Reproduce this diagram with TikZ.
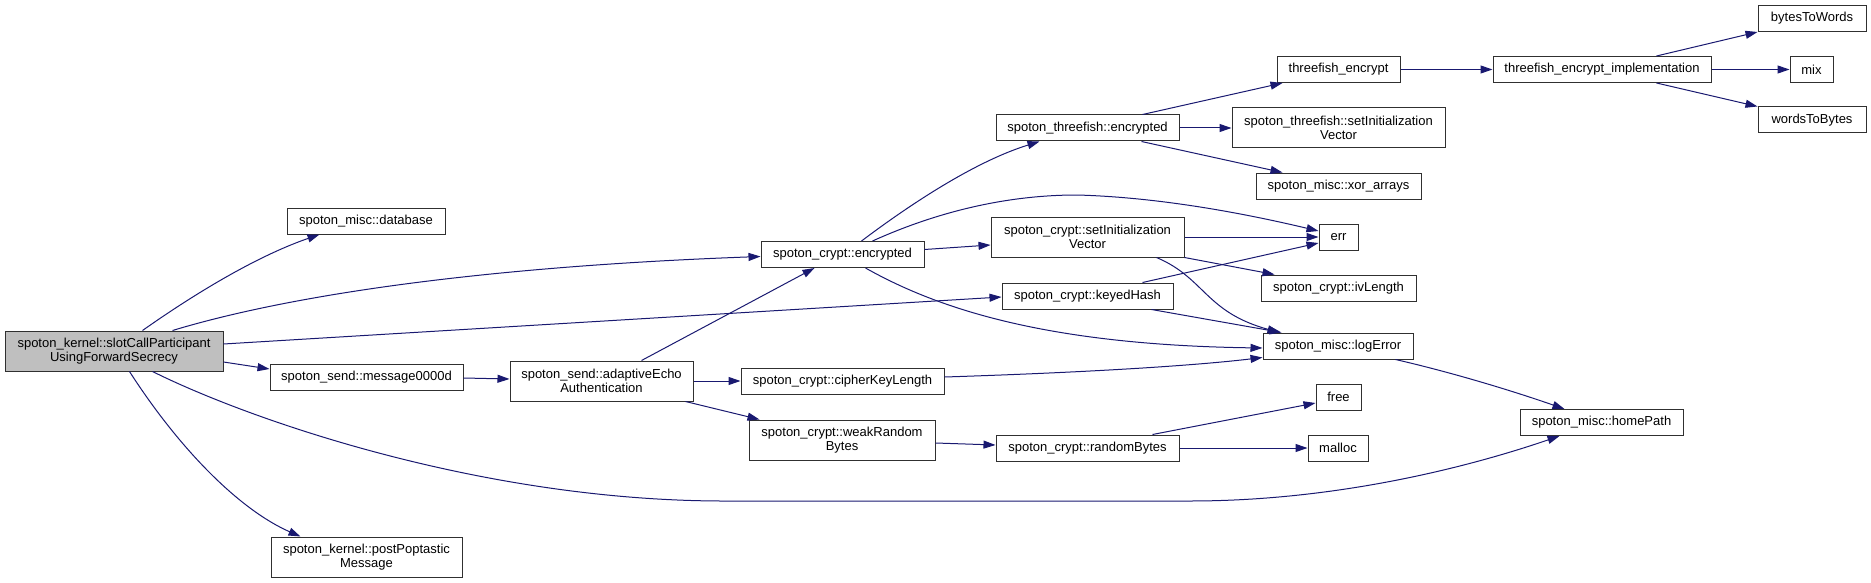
\documentclass[tikz,border=0pt]{standalone}
\usepackage{fontspec}
\setmainfont{Liberation Sans}
\usetikzlibrary{arrows.meta,calc}
\definecolor{edgeblue}{HTML}{191970}
\definecolor{boxline}{HTML}{303030}
\begin{document}
\begin{tikzpicture}[x=1pt,y=-1pt,
  fn/.style={draw=boxline,line width=1pt,fill=white,inner sep=0pt,align=center,
    minimum height=26pt,font=\fontsize{13}{14.5}\selectfont},
  fn2/.style={fn,minimum height=40pt},
  call/.style={draw=edgeblue,line width=1pt,-{Triangle[length=12pt,width=8pt]}}]
\useasboundingbox (0,0) rectangle (1871,583);
% nodes
\node[fn2,fill={rgb,255:red,191;green,191;blue,191},minimum width=218pt] (slot) at (114,351) {spoton\_kernel::slotCallParticipant\\UsingForwardSecrecy};
\node[fn,minimum width=158pt] (database) at (366,221) {spoton\_misc::database};
\node[fn,minimum width=193pt] (msg) at (366.5,377) {spoton\_send::message0000d};
\node[fn2,minimum width=191pt] (post) at (366.5,557) {spoton\_kernel::postPoptastic\\Message};
\node[fn,minimum width=163pt] (cenc) at (842.5,254.5) {spoton\_crypt::encrypted};
\node[fn2,minimum width=183pt] (adapt) at (601.5,381) {spoton\_send::adaptiveEcho\\Authentication};
\node[fn,minimum width=203pt] (ckl) at (842.5,381) {spoton\_crypt::cipherKeyLength};
\node[fn2,minimum width=186pt] (weak) at (842,440) {spoton\_crypt::weakRandom\\Bytes};
\node[fn,minimum width=123pt] (tenc) at (1338.5,69.5) {threefish\_encrypt};
\node[fn,minimum width=183pt] (tfenc) at (1087.5,128) {spoton\_threefish::encrypted};
\node[fn2,minimum width=213pt] (tfsiv) at (1338.5,128) {spoton\_threefish::setInitialization\\Vector};
\node[fn,minimum width=165pt] (xor) at (1338.5,186) {spoton\_misc::xor\_arrays};
\node[fn2,minimum width=193pt] (csiv) at (1087.5,237) {spoton\_crypt::setInitialization\\Vector};
\node[fn,minimum width=39pt] (err) at (1338.5,237) {err};
\node[fn,minimum width=155pt] (ivl) at (1338.5,288) {spoton\_crypt::ivLength};
\node[fn,minimum width=171pt] (kh) at (1087.5,296) {spoton\_crypt::keyedHash};
\node[fn,minimum width=150pt] (logerr) at (1338,346) {spoton\_misc::logError};
\node[fn,minimum width=45pt] (free) at (1338.5,397) {free};
\node[fn,minimum width=183pt] (rb) at (1087.5,448) {spoton\_crypt::randomBytes};
\node[fn,minimum width=60pt] (malloc) at (1338,448) {malloc};
\node[fn,minimum width=218pt] (impl) at (1602,69.5) {threefish\_encrypt\_implementation};
\node[fn,minimum width=108pt] (btw) at (1812,18.5) {bytesToWords};
\node[fn,minimum width=43pt] (mix) at (1811.5,69.5) {mix};
\node[fn,minimum width=108pt] (wtb) at (1812,120) {wordsToBytes};
\node[fn,minimum width=163pt] (home) at (1601.5,422.5) {spoton\_misc::homePath};
% edges
\draw[call] ($(slot.north west)+(138,0)$) .. controls (200,290) and (260,255) .. ($(database.south west)+(33,0)$);
\draw[call] ($(slot.north west)+(168,0)$) .. controls (300,292) and (500,266) .. ($(cenc.west)+(0,2)$);
\draw[call] ($(slot.east)+(0,-7)$) -- ($(kh.west)+(0,1)$);
\draw[call] ($(slot.east)+(0,11)$) -- ($(msg.west)+(0,-8)$);
\draw[call] ($(slot.south west)+(148,0)$) .. controls (250,420) and (480,500) .. (720,501) -- (1190,501) .. controls (1330,501) and (1460,470) .. ($(home.south west)+(40,0)$);
\draw[call] ($(slot.south west)+(125,0)$) .. controls (180,450) and (240,510) .. ($(post.north west)+(30,0)$);
\draw[call] ($(msg.east)+(0,1)$) -- ($(adapt.west)+(0,-2)$);
\draw[call] ($(adapt.north west)+(132,0)$) -- ($(cenc.south west)+(54,0)$);
\draw[call] (adapt.east) -- (ckl.west);
\draw[call] ($(adapt.south east)+(-8,0)$) -- ($(weak.north west)+(11,0)$);
\draw[call] ($(cenc.north west)+(101,0)$) .. controls (900,212) and (970,163) .. ($(tfenc.south west)+(44,0)$);
\draw[call] ($(cenc.north west)+(112,0)$) .. controls (930,215) and (1000,195) .. (1077,195) .. controls (1150,197) and (1230,210) .. ($(err.west)+(0,-6)$);
\draw[call] ($(cenc.east)+(0,-5)$) -- ($(csiv.west)+(0,8)$);
\draw[call] ($(cenc.south west)+(105,0)$) .. controls (940,310) and (1050,345) .. ($(logerr.west)+(0,2)$);
\draw[call] ($(tfenc.north west)+(147,0)$) -- ($(tenc.south west)+(6,0)$);
\draw[call] (tfenc.east) -- (tfsiv.west);
\draw[call] ($(tfenc.south west)+(146,0)$) -- ($(xor.north west)+(27,0)$);
\draw[call] (tenc.east) -- (impl.west);
\draw[call] ($(impl.north west)+(164,0)$) -- (btw.south west);
\draw[call] (impl.east) -- (mix.west);
\draw[call] ($(impl.south west)+(164,0)$) -- (wtb.north west);
\draw[call] (csiv.east) -- (err.west);
\draw[call] (csiv.south east) -- ($(ivl.north west)+(14,0)$);
\draw[call] ($(csiv.south west)+(166,0)$) .. controls (1205,278) and (1205,312) .. ($(logerr.north west)+(17,0)$);
\draw[call] ($(kh.north west)+(141,0)$) -- ($(err.west)+(0,6)$);
\draw[call] ($(kh.south west)+(150,0)$) -- ($(logerr.north west)+(19,0)$);
\draw[call] ($(ckl.east)+(0,-4)$) .. controls (1100,372) and (1200,365) .. ($(logerr.south west)+(0,-2)$);
\draw[call] ($(weak.east)+(0,3)$) -- ($(rb.west)+(0,-3)$);
\draw[call] ($(rb.north west)+(157,0)$) -- ($(free.west)+(0,6)$);
\draw[call] (rb.east) -- (malloc.west);
\draw[call] ($(logerr.south east)+(-18,0)$) .. controls (1450,372) and (1510,390) .. ($(home.north west)+(45,0)$);
\end{tikzpicture}
\end{document}
